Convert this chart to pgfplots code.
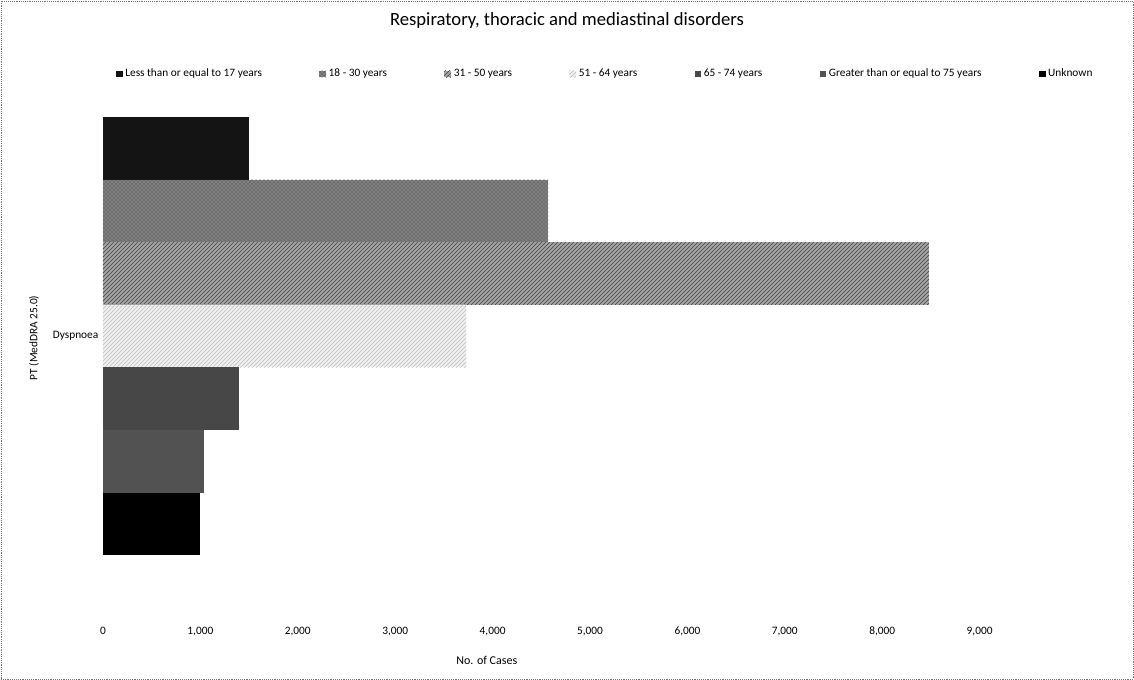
\documentclass[border=0pt]{standalone}
\usepackage{pgfplots}
\pgfplotsset{compat=1.18}
\usetikzlibrary{patterns}
\usepackage{fontspec}
\setmainfont{Carlito}
\begin{document}
\begin{tikzpicture}[x=0.75pt,y=0.75pt]
\useasboundingbox (0,0) rectangle (1134,680);
\draw[densely dotted, black!55] (1,1) rectangle (1133,679);
\node[font=\fontsize{14}{16}\selectfont] at (567,659) {Respiratory, thoracic and mediastinal disorders};
\begin{axis}[
  at={(77.25pt,46.5pt)}, anchor=south west, scale only axis,
  width=730.5pt, height=375.75pt,
  xmin=0, xmax=10000, ymin=-1.5, ymax=6.5,
  xbar, bar width=1,
  axis line style={draw=none}, major tick length=0pt,
  xtick={0,1000,...,9000},
  ytick={3}, yticklabels={Dyspnoea},
  /pgf/number format/.cd, 1000 sep={,}, assume math mode=true, /pgfplots/.cd,
  scaled x ticks=false,
  tick label style={font=\fontsize{8.5}{10}\selectfont},
  xticklabel style={yshift=-3pt},
  xlabel={No. of Cases},
  xlabel style={at={(axis description cs:0.394,0)}, anchor=center, yshift=-31.5pt, font=\fontsize{9}{11}\selectfont},
  ylabel={PT (MedDRA 25.0)},
  ylabel style={at={(axis description cs:0,0.559)}, anchor=center, yshift=51.75pt, font=\fontsize{8.5}{10}\selectfont},
  legend columns=7,
  legend style={draw=none, at={(axis description cs:0.516,1.086)}, anchor=center,
    font=\fontsize{8.5}{10}\selectfont,
    /tikz/every even column/.append style={column sep=41pt}},
  legend image code/.code={\fill[#1] (0pt,-2.5pt) rectangle (5pt,2.5pt);},
]
\addplot[fill=black!92, draw=none, bar shift=0pt] coordinates {(1500,6)};
\addlegendentry{Less than or equal to 17 years}
\addplot[fill=black!50, draw=none, bar shift=0pt, postaction={pattern=crosshatch dots, pattern color=black!80}] coordinates {(4570,5)};
\addlegendentry{18 - 30 years}
\addplot[fill=black!35, draw=none, bar shift=0pt, postaction={pattern=north east lines, pattern color=black!75}] coordinates {(8480,4)};
\addlegendentry{31 - 50 years}
\addplot[fill=black!6, draw=none, bar shift=0pt, postaction={pattern=north east lines, pattern color=black!25}] coordinates {(3730,3)};
\addlegendentry{51 - 64 years}
\addplot[fill=black!72, draw=none, bar shift=0pt] coordinates {(1400,2)};
\addlegendentry{65 - 74 years}
\addplot[fill=black!68, draw=none, bar shift=0pt] coordinates {(1040,1)};
\addlegendentry{Greater than or equal to 75 years}
\addplot[fill=black, draw=none, bar shift=0pt] coordinates {(1000,0)};
\addlegendentry{Unknown}
\end{axis}
\end{tikzpicture}
\end{document}
